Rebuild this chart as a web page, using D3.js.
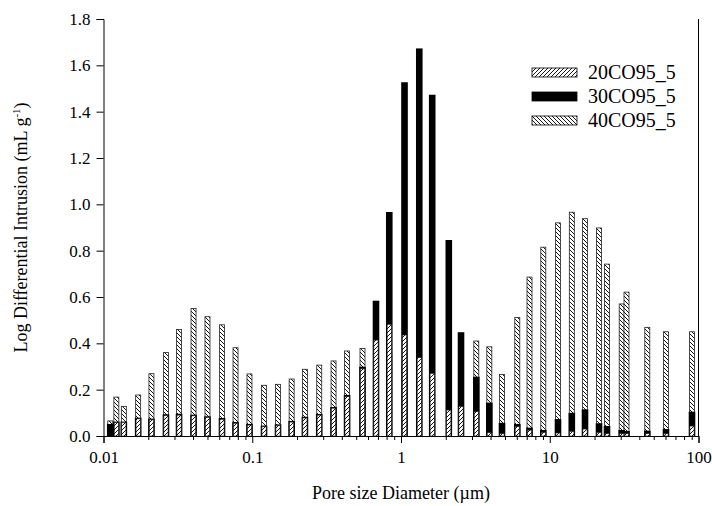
<!DOCTYPE html>
<html><head><meta charset="utf-8">
<script src="https://cdn.jsdelivr.net/npm/d3@7/dist/d3.min.js"></script>
<style>body{margin:0;background:#fff}svg{display:block}</style>
</head><body>
<svg id="c" width="712" height="506"></svg>
<script>
// Pore diameters (µm) of the bar positions
const diameters = [0.0111,0.0122,0.0137,0.0171,0.0210,0.0263,0.0322,0.0403,0.0500,0.0626,0.0772,0.0958,0.120,0.149,0.184,0.226,0.282,0.352,0.434,0.551,0.679,0.834,1.056,1.327,1.621,2.096,2.532,3.208,3.924,4.775,6.05,7.31,9.05,11.36,14.07,17.26,21.44,24.26,30.46,32.81,45.27,60.46,90.43];
// 40CO95_5 (back, "\\\\" hatch)
const s40 = [0.065,0.168,0.128,0.177,0.269,0.36,0.46,0.55,0.515,0.48,0.381,0.268,0.219,0.223,0.246,0.288,0.306,0.324,0.367,0.378,0.30,0.35,0.30,0.25,0.20,0.15,0.12,0.41,0.385,0.266,0.512,0.686,0.815,0.92,0.966,0.938,0.898,0.742,0.57,0.621,0.469,0.45,0.45];
// 30CO95_5 (black)
const s30 = [0.052,0.062,0.062,0.079,0.075,0.094,0.096,0.092,0.085,0.078,0.06,0.052,0.045,0.05,0.065,0.083,0.095,0.125,0.177,0.299,0.584,0.967,1.527,1.673,1.473,0.846,0.448,0.256,0.144,0.057,0.052,0.036,0.026,0.073,0.10,0.115,0.055,0.043,0.026,0.022,0.023,0.03,0.105];
// 20CO95_5 (front, "////" hatch)
const s20 = [0.0,0.058,0.058,0.074,0.07,0.088,0.09,0.087,0.08,0.072,0.055,0.047,0.04,0.045,0.06,0.078,0.09,0.12,0.17,0.29,0.414,0.482,0.436,0.338,0.27,0.112,0.127,0.105,0.014,0.01,0.04,0.025,0.015,0.013,0.02,0.03,0.015,0.01,0.01,0.01,0.01,0.01,0.043];
const xTicks = [0.01,0.1,1,10,100];
const xTickLabels = ["0.01","0.1","1","10","100"];
const yTicks = [0,0.2,0.4,0.6,0.8,1.0,1.2,1.4,1.6,1.8];
const seriesNames = ["20CO95_5","30CO95_5","40CO95_5"];

const svg = d3.select("#c");
const L=103.5,R=698.5,T=19,B=436;
const x = d3.scaleLog().domain([0.01,100]).range([L,R]);
const y = d3.scaleLinear().domain([0,1.8]).range([B,T]);
const font = "'Liberation Serif','Times New Roman',serif";

const defs = svg.append("defs");
function hatch(id, d){
  const p = defs.append("pattern").attr("id",id).attr("patternUnits","userSpaceOnUse")
    .attr("width",4).attr("height",4);
  p.append("rect").attr("width",4).attr("height",4).attr("fill","#fff");
  p.append("path").attr("d",d).attr("stroke","#000").attr("stroke-width",0.9).attr("fill","none");
}
hatch("fw","M-1,1L1,-1M0,4L4,0M3,5L5,3");
hatch("bw","M-1,3L1,5M0,0L4,4M3,-1L5,1");

const data = diameters.map((d,i)=>({d,a:s40[i],b:s30[i],c:s20[i]}));
const wH=5, wB=6.6;
const g = svg.append("g");
g.selectAll(".a").data(data).join("rect")
  .attr("x",d=>x(d.d)-wH/2).attr("width",wH)
  .attr("y",d=>y(d.a)).attr("height",d=>y(0)-y(d.a))
  .attr("fill","url(#bw)").attr("stroke","#222").attr("stroke-width",0.8);
g.selectAll(".b").data(data).join("rect")
  .attr("x",d=>x(d.d)-wB/2).attr("width",wB)
  .attr("y",d=>y(d.b)).attr("height",d=>y(0)-y(d.b))
  .attr("fill","#000");
g.selectAll(".c").data(data.filter(d=>d.c>0)).join("rect")
  .attr("x",d=>x(d.d)-wH/2+0.4).attr("width",wH-0.8)
  .attr("y",d=>y(d.c)).attr("height",d=>y(0)-y(d.c))
  .attr("fill","url(#fw)").attr("stroke","#222").attr("stroke-width",0.6);

// axes
const minor = [];
for(let e=-2;e<2;e++) for(let k=2;k<=9;k++) minor.push(k*Math.pow(10,e));
const xa = svg.append("g").attr("transform",`translate(0,${B})`);
xa.call(d3.axisBottom(x).tickValues(minor).tickSize(4).tickFormat(""));
const xa2 = svg.append("g").attr("transform",`translate(0,${B})`);
xa2.call(d3.axisBottom(x).tickValues(xTicks).tickSize(7).tickPadding(8).tickFormat((d,i)=>xTickLabels[i]));
const ya = svg.append("g").attr("transform",`translate(${L},0)`);
ya.call(d3.axisLeft(y).tickValues(yTicks).tickSize(7).tickPadding(6).tickFormat(d3.format(".1f")));
svg.selectAll(".domain").attr("stroke","#000");
xa.select(".domain").remove();
svg.selectAll(".tick line").attr("stroke","#000");
svg.selectAll(".tick text").attr("font-family",font).attr("font-size",17).attr("fill","#000");
svg.append("line").attr("x1",R).attr("x2",R).attr("y1",T).attr("y2",B).attr("stroke","#000");

// titles
svg.append("text").attr("x",(L+R)/2).attr("y",499).attr("text-anchor","middle")
  .attr("font-family",font).attr("font-size",18).text("Pore size Diameter (\u00b5m)");
const yt = svg.append("text").attr("transform",`translate(27,${(T+B)/2}) rotate(-90)`)
  .attr("text-anchor","middle").attr("font-family",font).attr("font-size",18);
yt.append("tspan").text("Log Differential Intrusion (mL g");
yt.append("tspan").attr("font-size",11).attr("dy",-7).text("-1");
yt.append("tspan").attr("dy",7).text(")");

// legend
const lg = svg.append("g");
const fills = ["url(#fw)","#000","url(#bw)"];
const rows = [72.5,96.5,120.5];
seriesNames.forEach((n,i)=>{
  lg.append("rect").attr("x",532).attr("y",rows[i]-4.5).attr("width",45).attr("height",9)
    .attr("fill",fills[i]).attr("stroke","#000").attr("stroke-width",0.8);
  lg.append("text").attr("x",588).attr("y",rows[i]+6.5).attr("font-family",font)
    .attr("font-size",20).text(n);
});
</script>
</body></html>
